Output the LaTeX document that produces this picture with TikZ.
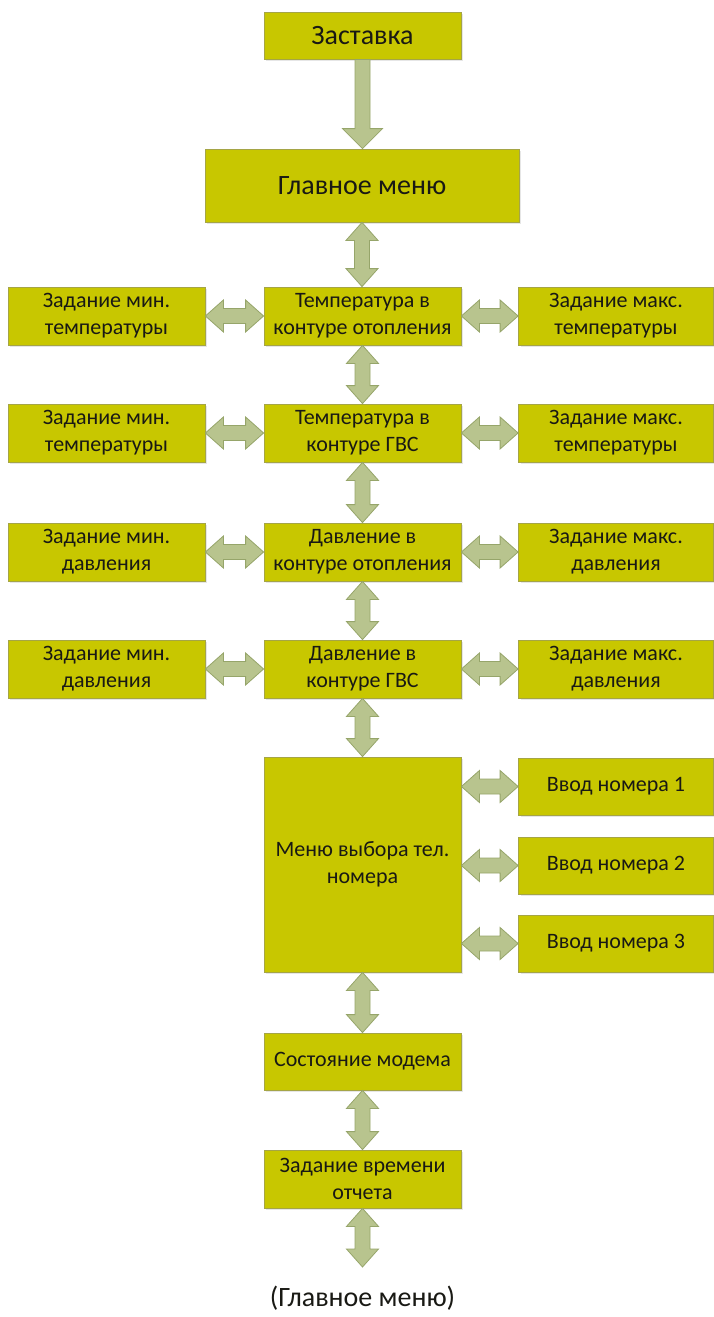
\documentclass[tikz,border=0pt]{standalone}
\usepackage{fontspec}
\setmainfont{Carlito}
\usetikzlibrary{calc,shadows}
\definecolor{boxfill}{RGB}{200,199,0}
\definecolor{boxline}{RGB}{165,165,70}
\definecolor{arrfill}{RGB}{184,196,142}
\definecolor{arrline}{RGB}{150,165,106}
\definecolor{txt}{RGB}{25,25,20}
\tikzset{
 box/.style={draw=boxline, fill=boxfill, line width=0.8pt, text=txt, align=center, inner sep=0pt,
   font=\fontsize{22}{27}\selectfont,
   drop shadow={shadow xshift=2pt, shadow yshift=-2pt, opacity=0.2}},
 bigbox/.style={box, font=\fontsize{28}{33}\selectfont},
 arr/.style={draw=arrline, fill=arrfill, line width=0.8pt, line join=miter},
 sidebox/.style={box, minimum width=197pt, minimum height=58pt},
}
\newcommand{\vdarr}[2]{\draw[arr] let \p1=#1, \p2=#2 in
  (\x1,\y1) -- (\x1+16pt,\y1-18pt) -- (\x1+7.5pt,\y1-18pt) -- (\x1+7.5pt,\y2+18pt) --
  (\x1+16pt,\y2+18pt) -- (\x1,\y2) -- (\x1-16pt,\y2+18pt) -- (\x1-7.5pt,\y2+18pt) --
  (\x1-7.5pt,\y1-18pt) -- (\x1-16pt,\y1-18pt) -- cycle;}
\newcommand{\hdarr}[2]{\draw[arr] let \p1=#1, \p2=#2 in
  (\x1,\y2) -- (\x1+18pt,\y2+16pt) -- (\x1+18pt,\y2+7.5pt) -- (\x2-18pt,\y2+7.5pt) --
  (\x2-18pt,\y2+16pt) -- (\x2,\y2) -- (\x2-18pt,\y2-16pt) -- (\x2-18pt,\y2-7.5pt) --
  (\x1+18pt,\y2-7.5pt) -- (\x1+18pt,\y2-16pt) -- cycle;}
\newcommand{\sdarr}[2]{\draw[arr] let \p1=#1, \p2=#2 in
  (\x1-7.5pt,\y1) -- (\x1+7.5pt,\y1) -- (\x1+7.5pt,\y2+20pt) -- (\x1+20pt,\y2+20pt) --
  (\x1,\y2) -- (\x1-20pt,\y2+20pt) -- (\x1-7.5pt,\y2+20pt) -- cycle;}
\begin{document}
\begin{tikzpicture}[x=1pt,y=-1pt]
\useasboundingbox (0,0) rectangle (714,1317);
% main column
\node[bigbox, minimum width=197pt, minimum height=47pt] (zast) at (362.5,35.5) {Заставка};
\node[bigbox, minimum width=314pt, minimum height=73pt] (glav) at (362,185.5) {Главное меню};
% row 1
\node[sidebox] (l1) at (106.5,316) {Задание мин.\\температуры};
\node[sidebox] (c1) at (362.5,316) {Температура в\\контуре отопления};
\node[sidebox, minimum width=195pt] (r1) at (616,316) {Задание макс.\\температуры};
% row 2
\node[sidebox] (l2) at (106.5,433) {Задание мин.\\температуры};
\node[sidebox] (c2) at (362.5,433) {Температура в\\контуре ГВС};
\node[sidebox, minimum width=195pt] (r2) at (616,433) {Задание макс.\\температуры};
% row 3
\node[sidebox] (l3) at (106.5,552) {Задание мин.\\давления};
\node[sidebox] (c3) at (362.5,552) {Давление в\\контуре отопления};
\node[sidebox, minimum width=195pt] (r3) at (616,552) {Задание макс.\\давления};
% row 4
\node[sidebox] (l4) at (106.5,669) {Задание мин.\\давления};
\node[sidebox] (c4) at (362.5,669) {Давление в\\контуре ГВС};
\node[sidebox, minimum width=195pt] (r4) at (616,669) {Задание макс.\\давления};
% phone menu
\node[box, minimum width=197pt, minimum height=215pt] (menu) at (362.5,864.5) {Меню выбора тел.\\номера};
\node[box, minimum width=195pt, minimum height=57pt] (v1) at (616,786.5) {Ввод номера 1};
\node[box, minimum width=195pt, minimum height=57pt] (v2) at (616,865.5) {Ввод номера 2};
\node[box, minimum width=195pt, minimum height=57pt] (v3) at (616,943.5) {Ввод номера 3};
% bottom
\node[box, minimum width=197pt, minimum height=57pt] (sost) at (362.5,1061.5) {Состояние модема};
\node[box, minimum width=197pt, minimum height=58pt] (zvr) at (362.5,1179) {Задание времени\\отчета};
\coordinate (bend) at (362.5,1267);
\node[text=txt, font=\fontsize{28}{33}\selectfont, inner sep=0pt] (back) at (362.5,1298) {(Главное меню)};
% arrows
\sdarr{(zast.south)}{(glav.north)}
\vdarr{(glav.south)}{(c1.north)}
\vdarr{(c1.south)}{(c2.north)}
\vdarr{(c2.south)}{(c3.north)}
\vdarr{(c3.south)}{(c4.north)}
\vdarr{(c4.south)}{(menu.north)}
\vdarr{(menu.south)}{(sost.north)}
\vdarr{(sost.south)}{(zvr.north)}
\vdarr{(zvr.south)}{(bend)}
\hdarr{(l1.east)}{(c1.west)}
\hdarr{(c1.east)}{(r1.west)}
\hdarr{(l2.east)}{(c2.west)}
\hdarr{(c2.east)}{(r2.west)}
\hdarr{(l3.east)}{(c3.west)}
\hdarr{(c3.east)}{(r3.west)}
\hdarr{(l4.east)}{(c4.west)}
\hdarr{(c4.east)}{(r4.west)}
\hdarr{(menu.east)}{(v1.west)}
\hdarr{(menu.east)}{(v2.west)}
\hdarr{(menu.east)}{(v3.west)}
\end{tikzpicture}
\end{document}
